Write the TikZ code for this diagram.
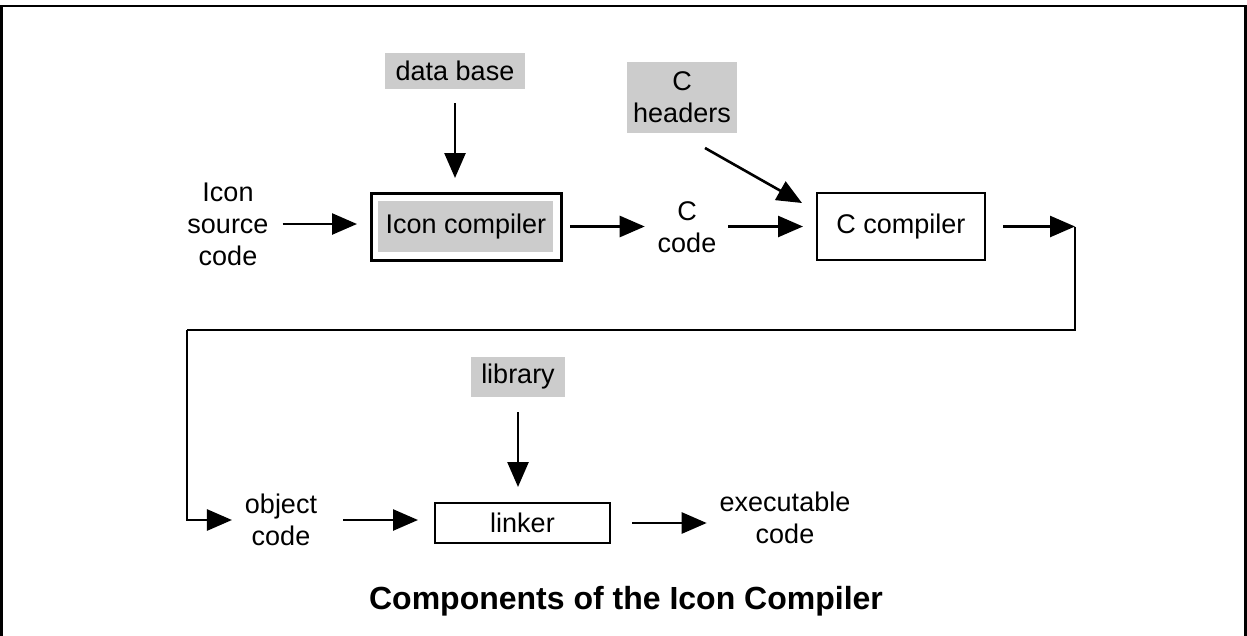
\documentclass[tikz,border=0pt]{standalone}
\usepackage{fontspec}
\setmainfont{Liberation Sans}
\usetikzlibrary{arrows.meta}
\definecolor{gbox}{RGB}{204,204,204}
\begin{document}
\begin{tikzpicture}[x=1pt,y=-1pt,
  every node/.style={font=\fontsize{27}{32}\selectfont, inner sep=0pt, outer sep=0pt},
  txt/.style={align=center},
  graybox/.style={fill=gbox, minimum width=#1},
  plainbox/.style={draw, line width=2.6pt},
  conn/.style={line width=2.6pt},
  arr/.style={conn, -{Triangle[length=25pt,width=21pt]}}
]
\useasboundingbox (0,0) rectangle (1247,635);
% frame
\draw[line width=2.6pt] (1.3,640) -- (1.3,6) -- (1245.7,6) -- (1245.7,640);

% nodes
\node[graybox=140, minimum height=36] (db) at (455,71) {data base};
\node[plainbox, line width=3pt, minimum width=190, minimum height=67,
  path picture={\fill[gbox] ([xshift=7pt,yshift=-8pt]path picture bounding box.north west)
    rectangle ([xshift=-8pt,yshift=8pt]path picture bounding box.south east);}]
  (iconcomp) at (466,226.5) {Icon compiler};
\node[txt] (iconsrc) at (228,224) {Icon\\source\\code};
\node[txt] (ccode) at (687,227) {C\\code};
\node[graybox=110, minimum height=71, txt] (cheaders) at (682,97.5) {C\\headers};
\node[plainbox, minimum width=168, minimum height=67] (ccomp) at (901,226.5) {C compiler};
\coordinate (turn) at (1075,226.5);
\coordinate (loopleft) at (187,330);
\node[txt] (objcode) at (281,520) {object\\code};
\node[graybox=94, minimum height=40] (library) at (518,377) {library};
\node[plainbox, minimum width=175, minimum height=40] (linker) at (522.5,523) {linker};
\node[txt] (exec) at (785,518) {executable\\code};
\node[font=\fontsize{32}{38}\selectfont\bfseries] (title) at (626,601) {Components of the Icon Compiler};

% connectors
\draw[arr, shorten <=14pt, shorten >=15pt] (db.south) -- (db.south |- iconcomp.north);
\draw[arr, shorten <=14pt, shorten >=14pt] (iconsrc.east) -- (iconcomp.west |- iconsrc.east);
\draw[arr, shorten <=9pt, shorten >=13pt] (iconcomp.east) -- (ccode.west |- iconcomp.east);
\draw[arr, shorten <=12pt, shorten >=14pt] (ccode.east |- ccomp.west) -- (ccomp.west);
\draw[arr] ([xshift=23pt,yshift=-15pt]cheaders.south) -- ([xshift=-15pt,yshift=-10pt]ccomp.north west);
\draw[arr, shorten <=18pt] (ccomp.east) -- (turn);
\draw[conn] (turn) |- (loopleft);
\draw[arr, shorten >=13pt] (loopleft) |- (objcode.west);
\draw[arr, shorten <=26pt, shorten >=17pt] (objcode.east) -- (linker.west |- objcode.east);
\draw[arr, shorten <=15pt, shorten >=16pt] (library.south) -- (library.south |- linker.north);
\draw[arr, shorten <=22pt, shorten >=13pt] (linker.east) -- (exec.west |- linker.east);
\end{tikzpicture}
\end{document}
